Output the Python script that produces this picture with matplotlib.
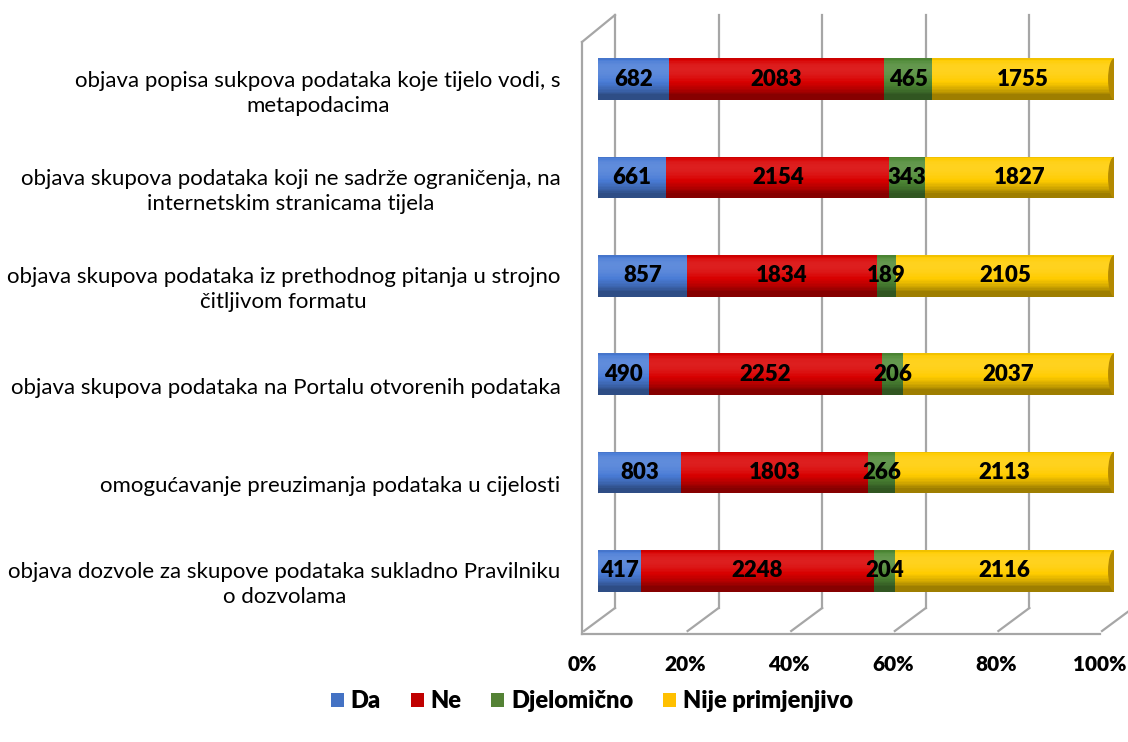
import numpy as np
import matplotlib
matplotlib.use("Agg")
import matplotlib.pyplot as plt
from matplotlib.patches import Ellipse, Patch
from matplotlib.lines import Line2D
from matplotlib.colors import to_rgb
from matplotlib.transforms import ScaledTranslation

plt.rcParams['font.family'] = ['Lato', 'DejaVu Sans']

categories = [
    "objava popisa sukpova podataka koje tijelo vodi, s\nmetapodacima",
    "objava skupova podataka koji ne sadrže ograničenja, na\ninternetskim stranicama tijela",
    "objava skupova podataka iz prethodnog pitanja u strojno\nčitljivom formatu",
    "objava skupova podataka na Portalu otvorenih podataka",
    "omogućavanje preuzimanja podataka u cijelosti",
    "objava dozvole za skupove podataka sukladno Pravilniku\no dozvolama",
]
series_names = ["Da", "Ne", "Djelomično", "Nije primjenjivo"]
da = [682, 661, 857, 490, 803, 417]
ne = [2083, 2154, 1834, 2252, 1803, 2248]
djelomicno = [465, 343, 189, 206, 266, 204]
nije = [1755, 1827, 2105, 2037, 2113, 2116]
x_ticks = [0, 20, 40, 60, 80, 100]
x_ticklabels = ["0%", "20%", "40%", "60%", "80%", "100%"]

bar_colors = ["#4A7CD6", "#D80000", "#4F8A36", "#FFCC00"]
legend_colors = ["#4472C4", "#C00000", "#548235", "#FFC000"]
cap_color = "#B38900"

W, H = 1128, 742
fig = plt.figure(figsize=(W / 100, H / 100), dpi=100)


def fx(x):
    return x / W


def fy(y):
    return 1 - y / H


# ---- 3D frame (walls / floor) drawn in figure pixel space ----
grid_col = "#A6A6A6"
front_x0, front_x1 = 582, 1100
back_dx, back_dy = 33, 26
top_back, floor_front = 15, 634
step = (front_x1 - front_x0) / 100.0


def line(x0, y0, x1, y1):
    fig.add_artist(Line2D([fx(x0), fx(x1)], [fy(y0), fy(y1)], color=grid_col,
                          lw=1.6, transform=fig.transFigure, zorder=0))


for p in x_ticks:
    xf = front_x0 + p * step
    xb = xf + back_dx
    line(xb, top_back, xb, floor_front - back_dy)          # back wall gridline
    line(xb, floor_front - back_dy, xf + 2, floor_front - 3)  # floor diagonal
line(front_x0, floor_front, front_x1, floor_front)          # floor front edge
line(front_x0, top_back + back_dy + 1, front_x0, floor_front)  # left wall front edge
line(front_x0, top_back + back_dy + 1, front_x0 + back_dx, top_back)  # left wall top

# ---- front-plane axis for the percentage tick labels ----
axf = fig.add_axes([fx(front_x0), fy(floor_front), fx(front_x1) - fx(front_x0), 0.01])
axf.set_xlim(0, 100)
axf.set_xticks(x_ticks)
axf.set_xticklabels(x_ticklabels, fontsize=15, fontweight='heavy')
axf.tick_params(axis='x', length=0, pad=15)
axf.set_yticks([])
for s in axf.spines.values():
    s.set_visible(False)
axf.patch.set_alpha(0)

# ---- bars axis ----
bx0, bx1 = 598, 1114
by_top, by_bot = 30, 620
ax = fig.add_axes([fx(bx0), fy(by_bot), fx(bx1) - fx(bx0), fy(by_top) - fy(by_bot)])
ax.set_xlim(0, 100)
ax.set_ylim(-0.5, 5.5)
ax.patch.set_alpha(0)
for s in ax.spines.values():
    s.set_visible(False)
ax.set_xticks([])

n = len(categories)
ypos = np.arange(n)[::-1]
data = np.array([da, ne, djelomicno, nije], dtype=float)
totals = data.sum(axis=0)
pct = data / totals * 100.0
bar_h = 0.42


def shade(c, k):
    c = np.array(to_rgb(c))
    if k >= 0:
        return tuple(c + (1 - c) * k)
    return tuple(c * (1 + k))


N = 30
lx, lz = 0.5, 0.85
norm = np.hypot(lx, lz)
lx, lz = lx / norm, lz / norm
strip_k = []
for i in range(N):
    t = (i + 0.5) / N
    u = 2 * t - 1
    z = np.sqrt(max(0.0, 1 - u * u))
    I = lx * u + lz * z
    k = (I - 0.8) * 0.6
    strip_k.append(max(-0.38, min(0.22, k)))

lefts = np.zeros(n)
for si in range(4):
    w = pct[si]
    for i in range(N):
        yoff = -bar_h / 2 + (i + 0.5) * bar_h / N
        ax.barh(ypos + yoff, w, left=lefts, height=bar_h / N * 1.05,
                color=shade(bar_colors[si], strip_k[i]), linewidth=0, zorder=2)
    for j in range(n):
        ax.text(lefts[j] + w[j] / 2, ypos[j], f"{int(data[si][j])}", ha='center',
                va='center', fontsize=16, fontweight='heavy', color='black', zorder=5)
    lefts = lefts + w

# rounded ends of the cylinders
cap_w = 2.3
for j in range(n):
    ax.add_patch(Ellipse((lefts[j], ypos[j]), cap_w, bar_h, facecolor=cap_color,
                         edgecolor='none', zorder=3))
    ax.add_patch(Ellipse((0, ypos[j]), cap_w, bar_h, facecolor=shade(bar_colors[0], -0.05),
                         edgecolor='none', zorder=1))

ax.set_yticks(ypos)
ax.set_yticklabels(categories, fontsize=16, multialignment='center', linespacing=1.3,
                   va='center')
ax.tick_params(axis='y', length=0, pad=27)
# category labels sit on the front plane, slightly below the bars
shift = ScaledTranslation(0, -14 / 100, fig.dpi_scale_trans)
for lab in ax.get_yticklabels():
    lab.set_transform(lab.get_transform() + shift)

# ---- legend ----
handles = [Patch(facecolor=c, edgecolor='none') for c in legend_colors]
fig.legend(handles, series_names, loc='center', bbox_to_anchor=(fx(592), fy(701)), ncol=4,
           frameon=False, prop={'weight': 'heavy', 'size': 17}, handlelength=0.55,
           handleheight=0.55, handletextpad=0.3, columnspacing=1.25)

fig.savefig("out.png", dpi=100)
